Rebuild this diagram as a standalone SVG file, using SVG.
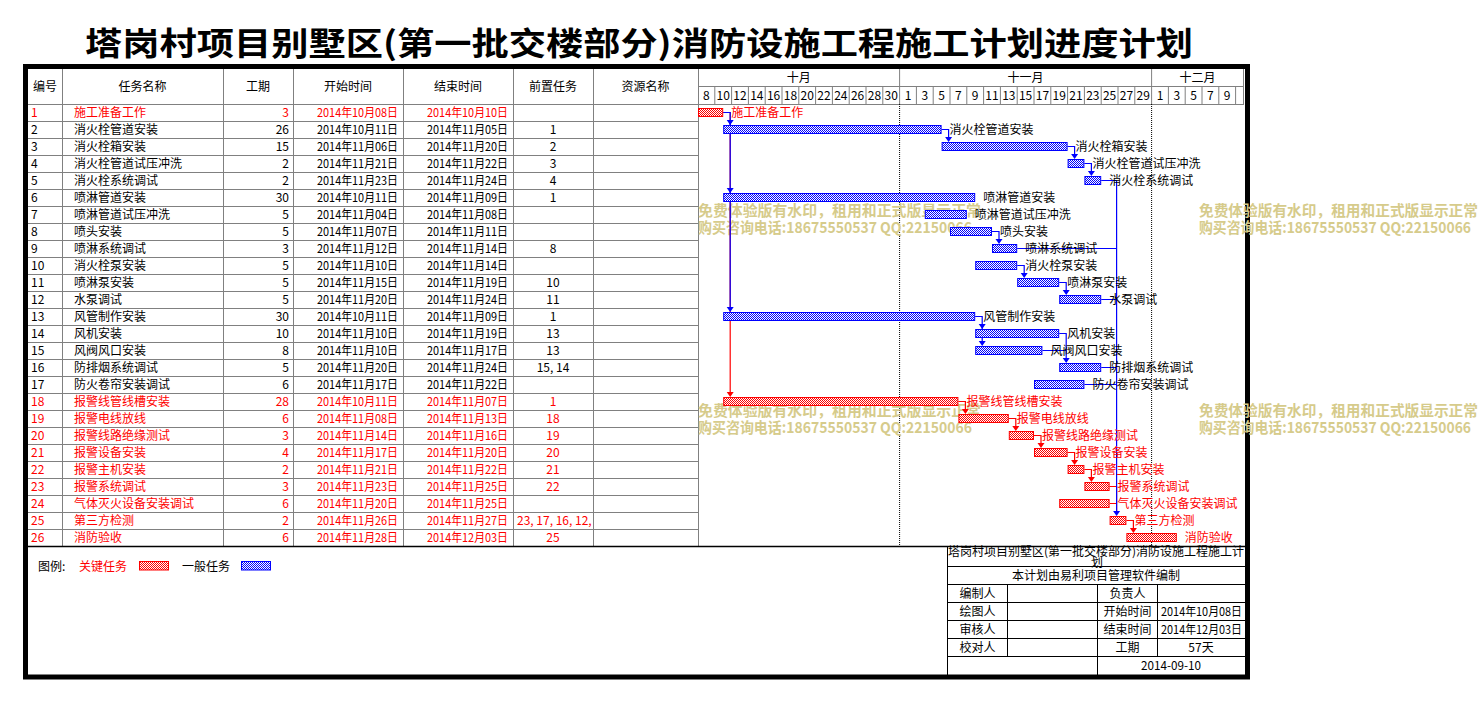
<svg xmlns="http://www.w3.org/2000/svg" width="1482" height="701" viewBox="0 0 1482 701">
<style>
text{font-family:'Noto Sans CJK SC','Noto Sans',sans-serif;font-size:12px;fill:#000}
.r text{fill:#f00}
text.rt{fill:#f00}
.e{text-anchor:end}
.m{text-anchor:middle}
.grid{stroke:#808080;stroke-width:1;fill:none}
.blk{stroke:#000;stroke-width:1;fill:none}
.bb{fill:url(#pb);stroke:#00f;stroke-width:1}
.br{fill:url(#pr);stroke:#f00;stroke-width:1}
.cb{stroke:#00f;stroke-width:1.2;fill:none}
.cr{stroke:#f00;stroke-width:1.2;fill:none}
.ab{fill:#00f}
.ar{fill:#f00}
.wm text{fill:#d6cb8b;font-size:15px;font-weight:bold}
.day{font-size:12px}
</style>
<defs>
<pattern id="pb" width="2" height="2" patternUnits="userSpaceOnUse"><rect width="2" height="2" fill="#fff"/><rect width="1" height="1" fill="#00f"/><rect x="1" y="1" width="1" height="1" fill="#00f"/></pattern>
<pattern id="pr" width="2" height="2" patternUnits="userSpaceOnUse"><rect width="2" height="2" fill="#fff"/><rect width="1" height="1" fill="#f00"/><rect x="1" y="1" width="1" height="1" fill="#f00"/></pattern>
<clipPath id="predclip"><rect x="514" y="100" width="78.5" height="450"/></clipPath>
</defs>
<rect width="1482" height="701" fill="#fff"/>

<g id="title"><text x="639" y="55" class="m" font-weight="bold" textLength="1108" lengthAdjust="spacingAndGlyphs" style="font-size:32px">塔岗村项目别墅区(第一批交楼部分)消防设施工程施工计划进度计划</text></g>

<g id="table-grid">
<path class="grid" d="M28 104.5H698M28 121.5H698M28 138.5H698M28 155.5H698M28 172.5H698M28 189.5H698M28 206.5H698M28 223.5H698M28 240.5H698M28 257.5H698M28 274.5H698M28 291.5H698M28 308.5H698M28 325.5H698M28 342.5H698M28 359.5H698M28 376.5H698M28 393.5H698M28 410.5H698M28 427.5H698M28 444.5H698M28 461.5H698M28 478.5H698M28 495.5H698M28 512.5H698M28 529.5H698"/>
<path class="grid" d="M62.5 68V546M223.5 68V546M293.5 68V546M403.5 68V546M513.5 68V546M593.5 68V546M698.5 68V546"/>
<g id="table-header">
<text x="45" y="90.5" class="m">编号</text>
<text x="142.5" y="90.5" class="m">任务名称</text>
<text x="258" y="90.5" class="m">工期</text>
<text x="348" y="90.5" class="m">开始时间</text>
<text x="458" y="90.5" class="m">结束时间</text>
<text x="553" y="90.5" class="m">前置任务</text>
<text x="645.5" y="90.5" class="m">资源名称</text>
</g>
</g>

<g id="gantt-header">
<path class="grid" d="M698 86.5H1244M698 104.5H1244M899.6 68V104M1151.6 68V104M1243.5 68V104"/>
<path class="grid" d="M714.8 86V104M731.6 86V104M748.4 86V104M765.2 86V104M782 86V104M798.8 86V104M815.6 86V104M832.4 86V104M849.2 86V104M866 86V104M882.8 86V104M916.4 86V104M933.2 86V104M950 86V104M966.8 86V104M983.6 86V104M1000.4 86V104M1017.2 86V104M1034 86V104M1050.8 86V104M1067.6 86V104M1084.4 86V104M1101.2 86V104M1118 86V104M1134.8 86V104M1168.4 86V104M1185.2 86V104M1202 86V104M1218.8 86V104M1235.6 86V104"/>
<text x="798.8" y="81.5" class="m">十月</text>
<text x="1025.6" y="81.5" class="m">十一月</text>
<text x="1197.5" y="81.5" class="m">十二月</text>
<g class="day">
<text x="706.4" y="99.5" class="m">8</text><text x="723.2" y="99.5" class="m">10</text><text x="740" y="99.5" class="m">12</text><text x="756.8" y="99.5" class="m">14</text><text x="773.6" y="99.5" class="m">16</text><text x="790.4" y="99.5" class="m">18</text><text x="807.2" y="99.5" class="m">20</text><text x="824" y="99.5" class="m">22</text><text x="840.8" y="99.5" class="m">24</text><text x="857.6" y="99.5" class="m">26</text><text x="874.4" y="99.5" class="m">28</text><text x="891.2" y="99.5" class="m">30</text>
<text x="908" y="99.5" class="m">1</text><text x="924.8" y="99.5" class="m">3</text><text x="941.6" y="99.5" class="m">5</text><text x="958.4" y="99.5" class="m">7</text><text x="975.2" y="99.5" class="m">9</text><text x="992" y="99.5" class="m">11</text><text x="1008.8" y="99.5" class="m">13</text><text x="1025.6" y="99.5" class="m">15</text><text x="1042.4" y="99.5" class="m">17</text><text x="1059.2" y="99.5" class="m">19</text><text x="1076" y="99.5" class="m">21</text><text x="1092.8" y="99.5" class="m">23</text><text x="1109.6" y="99.5" class="m">25</text><text x="1126.4" y="99.5" class="m">27</text><text x="1143.2" y="99.5" class="m">29</text>
<text x="1160" y="99.5" class="m">1</text><text x="1176.8" y="99.5" class="m">3</text><text x="1193.6" y="99.5" class="m">5</text><text x="1210.4" y="99.5" class="m">7</text><text x="1227.2" y="99.5" class="m">9</text>
</g>
<path d="M899.6 104V546M1151.6 104V546" stroke="#000" stroke-width="1" stroke-dasharray="1 1" fill="none"/>
</g>

<g id="watermark-left" class="wm">
<text x="698" y="215.5" textLength="283" lengthAdjust="spacingAndGlyphs">免费体验版有水印，租用和正式版显示正常</text>
<text x="698" y="232.5" textLength="274" lengthAdjust="spacingAndGlyphs">购买咨询电话:18675550537 QQ:22150066</text>
<text x="698" y="415.5" textLength="283" lengthAdjust="spacingAndGlyphs">免费体验版有水印，租用和正式版显示正常</text>
<text x="698" y="432.5" textLength="274" lengthAdjust="spacingAndGlyphs">购买咨询电话:18675550537 QQ:22150066</text>
</g>

<g id="connectors">
<path class="cr" d="M723.2 112.5H730.2V392M958.4 401.5H965.4V409M1008.8 418.5H1015.8V426M1034 435.5H1041V443M1067.6 452.5H1074.6V460M1084.4 469.5H1091.4V477M1109.6 486.5H1116.6V511M1109.6 503.5H1116.6M1126.4 520.5H1133.4V528"/>
<path class="ar" d="M726.7 392H733.7L730.2 397ZM961.9 409H968.9L965.4 414ZM1012.3 426H1019.3L1015.8 431ZM1037.5 443H1044.5L1041 448ZM1071.1 460H1078.1L1074.6 465ZM1087.9 477H1094.9L1091.4 482ZM1129.9 528H1136.9L1133.4 533Z"/>
<path class="cb" d="M723.2 112.5H730.2V307M941.6 129.5H948.6V137M1067.6 146.5H1074.6V154M1084.4 163.5H1091.4V171M992 231.5H999V239M1017.2 265.5H1024.2V273M1059.2 282.5H1066.2V290M975.2 316.5H982.2V341M1059.2 333.5H1066.2V358M1042.4 350.5H1066.2M1101.2 180.5H1116.6V511M1017.2 248.5H1116.6M1101.2 299.5H1116.6M1101.2 367.5H1116.6M1084.4 384.5H1116.6"/>
<path class="ab" d="M726.7 120H733.7L730.2 125ZM726.7 188H733.7L730.2 193ZM726.7 307H733.7L730.2 312ZM945.1 137H952.1L948.6 142ZM1071.1 154H1078.1L1074.6 159ZM1087.9 171H1094.9L1091.4 176ZM995.5 239H1002.5L999 244ZM1020.7 273H1027.7L1024.2 278ZM1062.7 290H1069.7L1066.2 295ZM978.7 324H985.7L982.2 329ZM978.7 341H985.7L982.2 346ZM1062.7 358H1069.7L1066.2 363ZM1113.1 511H1120.1L1116.6 516Z"/>
</g>

<g id="task-1" class="r">
<text x="31" y="117">1</text><text x="74" y="117">施工准备工作</text><text x="289" y="117" class="e">3</text>
<text x="398" y="117" class="e" textLength="81" lengthAdjust="spacingAndGlyphs">2014年10月08日</text><text x="508" y="117" class="e" textLength="81" lengthAdjust="spacingAndGlyphs">2014年10月10日</text>
<rect class="br" x="698.5" y="108.5" width="24.2" height="8"/><text x="731.2" y="117">施工准备工作</text>
</g>
<g id="task-2">
<text x="31" y="134">2</text><text x="74" y="134">消火栓管道安装</text><text x="289" y="134" class="e">26</text>
<text x="398" y="134" class="e" textLength="81" lengthAdjust="spacingAndGlyphs">2014年10月11日</text><text x="508" y="134" class="e" textLength="81" lengthAdjust="spacingAndGlyphs">2014年11月05日</text><text x="553" y="134" class="m">1</text>
<rect class="bb" x="723.7" y="125.5" width="217.4" height="8"/><text x="949.6" y="134">消火栓管道安装</text>
</g>
<g id="task-3">
<text x="31" y="151">3</text><text x="74" y="151">消火栓箱安装</text><text x="289" y="151" class="e">15</text>
<text x="398" y="151" class="e" textLength="81" lengthAdjust="spacingAndGlyphs">2014年11月06日</text><text x="508" y="151" class="e" textLength="81" lengthAdjust="spacingAndGlyphs">2014年11月20日</text><text x="553" y="151" class="m">2</text>
<rect class="bb" x="942.1" y="142.5" width="125" height="8"/><text x="1075.6" y="151">消火栓箱安装</text>
</g>
<g id="task-4">
<text x="31" y="168">4</text><text x="74" y="168">消火栓管道试压冲洗</text><text x="289" y="168" class="e">2</text>
<text x="398" y="168" class="e" textLength="81" lengthAdjust="spacingAndGlyphs">2014年11月21日</text><text x="508" y="168" class="e" textLength="81" lengthAdjust="spacingAndGlyphs">2014年11月22日</text><text x="553" y="168" class="m">3</text>
<rect class="bb" x="1068.1" y="159.5" width="15.8" height="8"/><text x="1092.4" y="168">消火栓管道试压冲洗</text>
</g>
<g id="task-5">
<text x="31" y="185">5</text><text x="74" y="185">消火栓系统调试</text><text x="289" y="185" class="e">2</text>
<text x="398" y="185" class="e" textLength="81" lengthAdjust="spacingAndGlyphs">2014年11月23日</text><text x="508" y="185" class="e" textLength="81" lengthAdjust="spacingAndGlyphs">2014年11月24日</text><text x="553" y="185" class="m">4</text>
<rect class="bb" x="1084.9" y="176.5" width="15.8" height="8"/><text x="1109.2" y="185">消火栓系统调试</text>
</g>
<g id="task-6">
<text x="31" y="202">6</text><text x="74" y="202">喷淋管道安装</text><text x="289" y="202" class="e">30</text>
<text x="398" y="202" class="e" textLength="81" lengthAdjust="spacingAndGlyphs">2014年10月11日</text><text x="508" y="202" class="e" textLength="81" lengthAdjust="spacingAndGlyphs">2014年11月09日</text><text x="553" y="202" class="m">1</text>
<rect class="bb" x="723.7" y="193.5" width="251" height="8"/><text x="983.2" y="202">喷淋管道安装</text>
</g>
<g id="task-7">
<text x="31" y="219">7</text><text x="74" y="219">喷淋管道试压冲洗</text><text x="289" y="219" class="e">5</text>
<text x="398" y="219" class="e" textLength="81" lengthAdjust="spacingAndGlyphs">2014年11月04日</text><text x="508" y="219" class="e" textLength="81" lengthAdjust="spacingAndGlyphs">2014年11月08日</text>
<rect class="bb" x="925.3" y="210.5" width="41" height="8"/><text x="974.8" y="219">喷淋管道试压冲洗</text>
</g>
<g id="task-8">
<text x="31" y="236">8</text><text x="74" y="236">喷头安装</text><text x="289" y="236" class="e">5</text>
<text x="398" y="236" class="e" textLength="81" lengthAdjust="spacingAndGlyphs">2014年11月07日</text><text x="508" y="236" class="e" textLength="81" lengthAdjust="spacingAndGlyphs">2014年11月11日</text>
<rect class="bb" x="950.5" y="227.5" width="41" height="8"/><text x="1000" y="236">喷头安装</text>
</g>
<g id="task-9">
<text x="31" y="253">9</text><text x="74" y="253">喷淋系统调试</text><text x="289" y="253" class="e">3</text>
<text x="398" y="253" class="e" textLength="81" lengthAdjust="spacingAndGlyphs">2014年11月12日</text><text x="508" y="253" class="e" textLength="81" lengthAdjust="spacingAndGlyphs">2014年11月14日</text><text x="553" y="253" class="m">8</text>
<rect class="bb" x="992.5" y="244.5" width="24.2" height="8"/><text x="1025.2" y="253">喷淋系统调试</text>
</g>
<g id="task-10">
<text x="31" y="270">10</text><text x="74" y="270">消火栓泵安装</text><text x="289" y="270" class="e">5</text>
<text x="398" y="270" class="e" textLength="81" lengthAdjust="spacingAndGlyphs">2014年11月10日</text><text x="508" y="270" class="e" textLength="81" lengthAdjust="spacingAndGlyphs">2014年11月14日</text>
<rect class="bb" x="975.7" y="261.5" width="41" height="8"/><text x="1025.2" y="270">消火栓泵安装</text>
</g>
<g id="task-11">
<text x="31" y="287">11</text><text x="74" y="287">喷淋泵安装</text><text x="289" y="287" class="e">5</text>
<text x="398" y="287" class="e" textLength="81" lengthAdjust="spacingAndGlyphs">2014年11月15日</text><text x="508" y="287" class="e" textLength="81" lengthAdjust="spacingAndGlyphs">2014年11月19日</text><text x="553" y="287" class="m">10</text>
<rect class="bb" x="1017.7" y="278.5" width="41" height="8"/><text x="1067.2" y="287">喷淋泵安装</text>
</g>
<g id="task-12">
<text x="31" y="304">12</text><text x="74" y="304">水泵调试</text><text x="289" y="304" class="e">5</text>
<text x="398" y="304" class="e" textLength="81" lengthAdjust="spacingAndGlyphs">2014年11月20日</text><text x="508" y="304" class="e" textLength="81" lengthAdjust="spacingAndGlyphs">2014年11月24日</text><text x="553" y="304" class="m">11</text>
<rect class="bb" x="1059.7" y="295.5" width="41" height="8"/><text x="1109.2" y="304">水泵调试</text>
</g>
<g id="task-13">
<text x="31" y="321">13</text><text x="74" y="321">风管制作安装</text><text x="289" y="321" class="e">30</text>
<text x="398" y="321" class="e" textLength="81" lengthAdjust="spacingAndGlyphs">2014年10月11日</text><text x="508" y="321" class="e" textLength="81" lengthAdjust="spacingAndGlyphs">2014年11月09日</text><text x="553" y="321" class="m">1</text>
<rect class="bb" x="723.7" y="312.5" width="251" height="8"/><text x="983.2" y="321">风管制作安装</text>
</g>
<g id="task-14">
<text x="31" y="338">14</text><text x="74" y="338">风机安装</text><text x="289" y="338" class="e">10</text>
<text x="398" y="338" class="e" textLength="81" lengthAdjust="spacingAndGlyphs">2014年11月10日</text><text x="508" y="338" class="e" textLength="81" lengthAdjust="spacingAndGlyphs">2014年11月19日</text><text x="553" y="338" class="m">13</text>
<rect class="bb" x="975.7" y="329.5" width="83" height="8"/><text x="1067.2" y="338">风机安装</text>
</g>
<g id="task-15">
<text x="31" y="355">15</text><text x="74" y="355">风阀风口安装</text><text x="289" y="355" class="e">8</text>
<text x="398" y="355" class="e" textLength="81" lengthAdjust="spacingAndGlyphs">2014年11月10日</text><text x="508" y="355" class="e" textLength="81" lengthAdjust="spacingAndGlyphs">2014年11月17日</text><text x="553" y="355" class="m">13</text>
<rect class="bb" x="975.7" y="346.5" width="66.2" height="8"/><text x="1050.4" y="355">风阀风口安装</text>
</g>
<g id="task-16">
<text x="31" y="372">16</text><text x="74" y="372">防排烟系统调试</text><text x="289" y="372" class="e">5</text>
<text x="398" y="372" class="e" textLength="81" lengthAdjust="spacingAndGlyphs">2014年11月20日</text><text x="508" y="372" class="e" textLength="81" lengthAdjust="spacingAndGlyphs">2014年11月24日</text><text x="553" y="372" class="m">15, 14</text>
<rect class="bb" x="1059.7" y="363.5" width="41" height="8"/><text x="1109.2" y="372">防排烟系统调试</text>
</g>
<g id="task-17">
<text x="31" y="389">17</text><text x="74" y="389">防火卷帘安装调试</text><text x="289" y="389" class="e">6</text>
<text x="398" y="389" class="e" textLength="81" lengthAdjust="spacingAndGlyphs">2014年11月17日</text><text x="508" y="389" class="e" textLength="81" lengthAdjust="spacingAndGlyphs">2014年11月22日</text>
<rect class="bb" x="1034.5" y="380.5" width="49.4" height="8"/><text x="1092.4" y="389">防火卷帘安装调试</text>
</g>
<g id="task-18" class="r">
<text x="31" y="406">18</text><text x="74" y="406">报警线管线槽安装</text><text x="289" y="406" class="e">28</text>
<text x="398" y="406" class="e" textLength="81" lengthAdjust="spacingAndGlyphs">2014年10月11日</text><text x="508" y="406" class="e" textLength="81" lengthAdjust="spacingAndGlyphs">2014年11月07日</text><text x="553" y="406" class="m">1</text>
<rect class="br" x="723.7" y="397.5" width="234.2" height="8"/><text x="966.4" y="406">报警线管线槽安装</text>
</g>
<g id="task-19" class="r">
<text x="31" y="423">19</text><text x="74" y="423">报警电线放线</text><text x="289" y="423" class="e">6</text>
<text x="398" y="423" class="e" textLength="81" lengthAdjust="spacingAndGlyphs">2014年11月08日</text><text x="508" y="423" class="e" textLength="81" lengthAdjust="spacingAndGlyphs">2014年11月13日</text><text x="553" y="423" class="m">18</text>
<rect class="br" x="958.9" y="414.5" width="49.4" height="8"/><text x="1016.8" y="423">报警电线放线</text>
</g>
<g id="task-20" class="r">
<text x="31" y="440">20</text><text x="74" y="440">报警线路绝缘测试</text><text x="289" y="440" class="e">3</text>
<text x="398" y="440" class="e" textLength="81" lengthAdjust="spacingAndGlyphs">2014年11月14日</text><text x="508" y="440" class="e" textLength="81" lengthAdjust="spacingAndGlyphs">2014年11月16日</text><text x="553" y="440" class="m">19</text>
<rect class="br" x="1009.3" y="431.5" width="24.2" height="8"/><text x="1042" y="440">报警线路绝缘测试</text>
</g>
<g id="task-21" class="r">
<text x="31" y="457">21</text><text x="74" y="457">报警设备安装</text><text x="289" y="457" class="e">4</text>
<text x="398" y="457" class="e" textLength="81" lengthAdjust="spacingAndGlyphs">2014年11月17日</text><text x="508" y="457" class="e" textLength="81" lengthAdjust="spacingAndGlyphs">2014年11月20日</text><text x="553" y="457" class="m">20</text>
<rect class="br" x="1034.5" y="448.5" width="32.6" height="8"/><text x="1075.6" y="457">报警设备安装</text>
</g>
<g id="task-22" class="r">
<text x="31" y="474">22</text><text x="74" y="474">报警主机安装</text><text x="289" y="474" class="e">2</text>
<text x="398" y="474" class="e" textLength="81" lengthAdjust="spacingAndGlyphs">2014年11月21日</text><text x="508" y="474" class="e" textLength="81" lengthAdjust="spacingAndGlyphs">2014年11月22日</text><text x="553" y="474" class="m">21</text>
<rect class="br" x="1068.1" y="465.5" width="15.8" height="8"/><text x="1092.4" y="474">报警主机安装</text>
</g>
<g id="task-23" class="r">
<text x="31" y="491">23</text><text x="74" y="491">报警系统调试</text><text x="289" y="491" class="e">3</text>
<text x="398" y="491" class="e" textLength="81" lengthAdjust="spacingAndGlyphs">2014年11月23日</text><text x="508" y="491" class="e" textLength="81" lengthAdjust="spacingAndGlyphs">2014年11月25日</text><text x="553" y="491" class="m">22</text>
<rect class="br" x="1084.9" y="482.5" width="24.2" height="8"/><text x="1117.6" y="491">报警系统调试</text>
</g>
<g id="task-24" class="r">
<text x="31" y="508">24</text><text x="74" y="508">气体灭火设备安装调试</text><text x="289" y="508" class="e">6</text>
<text x="398" y="508" class="e" textLength="81" lengthAdjust="spacingAndGlyphs">2014年11月20日</text><text x="508" y="508" class="e" textLength="81" lengthAdjust="spacingAndGlyphs">2014年11月25日</text>
<rect class="br" x="1059.7" y="499.5" width="49.4" height="8"/><text x="1117.6" y="508">气体灭火设备安装调试</text>
</g>
<g id="task-25" class="r">
<text x="31" y="525">25</text><text x="74" y="525">第三方检测</text><text x="289" y="525" class="e">2</text>
<text x="398" y="525" class="e" textLength="81" lengthAdjust="spacingAndGlyphs">2014年11月26日</text><text x="508" y="525" class="e" textLength="81" lengthAdjust="spacingAndGlyphs">2014年11月27日</text><text x="517" y="525" clip-path="url(#predclip)">23, 17, 16, 12, 9</text>
<rect class="br" x="1110.1" y="516.5" width="15.8" height="8"/><text x="1134.4" y="525">第三方检测</text>
</g>
<g id="task-26" class="r">
<text x="31" y="542">26</text><text x="74" y="542">消防验收</text><text x="289" y="542" class="e">6</text>
<text x="398" y="542" class="e" textLength="81" lengthAdjust="spacingAndGlyphs">2014年11月28日</text><text x="508" y="542" class="e" textLength="81" lengthAdjust="spacingAndGlyphs">2014年12月03日</text><text x="553" y="542" class="m">25</text>
<rect class="br" x="1126.9" y="533.5" width="49.4" height="8"/><text x="1184.8" y="542">消防验收</text>
</g>

<g id="legend">
<text x="38" y="570.5">图例:</text>
<text x="79" y="570.5" class="rt">关键任务</text>
<rect class="br" x="139.5" y="561.5" width="29" height="8.5"/>
<text x="182" y="570.5">一般任务</text>
<rect class="bb" x="241.5" y="561.5" width="29" height="8.5"/>
</g>

<g id="info-table">
<path class="blk" d="M947.5 546V675M947.5 566.5H1245M947.5 584.5H1245M947.5 602.5H1245M947.5 620.5H1245M947.5 638.5H1245M947.5 656.5H1245M1007.5 584.5V656.5M1097.5 584.5V675M1157.5 584.5V656.5"/>
<text x="948" y="556" textLength="296" lengthAdjust="spacingAndGlyphs">塔岗村项目别墅区(第一批交楼部分)消防设施工程施工计</text>
<text x="1097" y="567" class="m">划</text>
<text x="1096" y="580" class="m">本计划由易利项目管理软件编制</text>
<text x="977.5" y="598" class="m">编制人</text><text x="1127.5" y="598" class="m">负责人</text>
<text x="977.5" y="616" class="m">绘图人</text><text x="1127.5" y="616" class="m">开始时间</text><text x="1161" y="616" textLength="81" lengthAdjust="spacingAndGlyphs">2014年10月08日</text>
<text x="977.5" y="634" class="m">审核人</text><text x="1127.5" y="634" class="m">结束时间</text><text x="1161" y="634" textLength="81" lengthAdjust="spacingAndGlyphs">2014年12月03日</text>
<text x="977.5" y="652" class="m">校对人</text><text x="1127.5" y="652" class="m">工期</text><text x="1201" y="652" class="m">57天</text>
<text x="1171" y="670" class="m" textLength="60" lengthAdjust="spacingAndGlyphs">2014-09-10</text>
</g>

<g id="frame">
<path d="M28 546.5H1245" stroke="#000" stroke-width="1.5" fill="none"/>
<rect x="25.5" y="66.5" width="1222" height="610.5" fill="none" stroke="#000" stroke-width="5"/>
</g>

<g id="watermark-right" class="wm">
<text x="1199" y="215.5" textLength="279" lengthAdjust="spacingAndGlyphs">免费体验版有水印，租用和正式版显示正常</text>
<text x="1199" y="232.5" textLength="272" lengthAdjust="spacingAndGlyphs">购买咨询电话:18675550537 QQ:22150066</text>
<text x="1199" y="415.5" textLength="279" lengthAdjust="spacingAndGlyphs">免费体验版有水印，租用和正式版显示正常</text>
<text x="1199" y="432.5" textLength="272" lengthAdjust="spacingAndGlyphs">购买咨询电话:18675550537 QQ:22150066</text>
</g>
</svg>
